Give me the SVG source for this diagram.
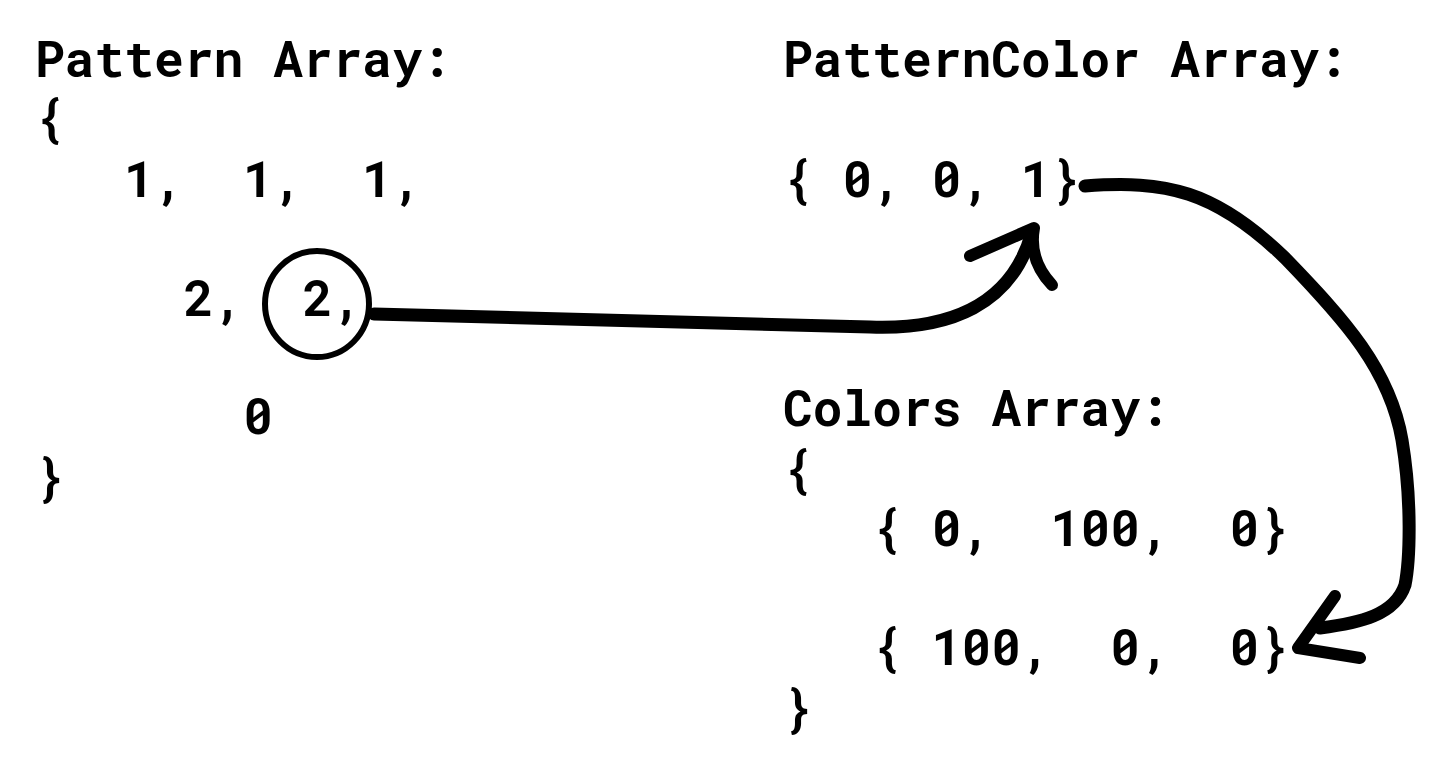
<svg xmlns="http://www.w3.org/2000/svg" width="1449" height="771" viewBox="0 0 1449 771">
<style>
text{font-family:"Roboto Mono","DejaVu Sans Mono","Liberation Mono",monospace;font-weight:bold;font-size:49.6px;fill:#000;white-space:pre}
.ln{fill:none;stroke:#000;stroke-linecap:round;stroke-linejoin:round}
</style>
<rect width="1449" height="771" fill="#fff"/>
<g id="pattern-array">
<text x="35" y="77">Pattern Array:</text>
<text x="35" y="136">{</text>
<text x="35" y="197" xml:space="preserve">   1,  1,  1,</text>
<text x="35" y="316" xml:space="preserve">     2,  2,</text>
<text x="35" y="434" xml:space="preserve">       0</text>
<text x="35" y="495">}</text>
</g>
<g id="highlight">
<ellipse cx="317" cy="304" rx="52" ry="53" class="ln" stroke-width="6"/>
</g>
<g id="patterncolor-array">
<text x="783" y="77">PatternColor Array:</text>
<text x="783" y="197" xml:space="preserve">{ 0, 0, 1}</text>
</g>
<g id="colors-array">
<text x="783" y="426">Colors Array:</text>
<text x="783" y="487">{</text>
<text x="783" y="546" xml:space="preserve">   { 0,  100,  0}</text>
<text x="783" y="665" xml:space="preserve">   { 100,  0,  0}</text>
<text x="783" y="726">}</text>
</g>
<g id="connectors">
<path class="ln" stroke-width="13" d="M374,314 L870,327 C950,330 1012,305 1032,232"/>
<path class="ln" stroke-width="12" d="M970,256 L1034,228 C1030,250 1036,268 1052,285"/>
<path class="ln" stroke-width="13" d="M1085,186 C1165,180 1215,190 1285,258 C1345,320 1390,370 1402,440 C1412,500 1410,560 1405,585 C1395,615 1360,623 1320,628"/>
<path class="ln" stroke-width="12" d="M1335,596 L1298,648 L1360,658"/>
</g>
</svg>
